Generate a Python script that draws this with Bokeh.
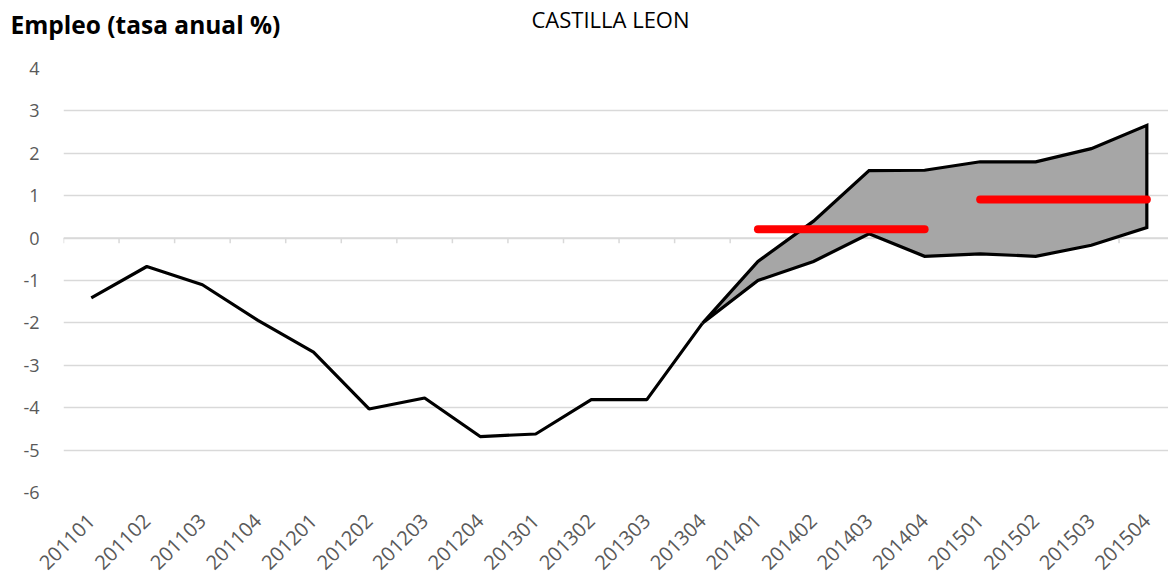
from bokeh.plotting import figure
from bokeh.models import Range1d, FixedTicker, Label
from bokeh.embed import file_html
from bokeh.resources import INLINE

periods = ["201101", "201102", "201103", "201104", "201201", "201202", "201203", "201204",
           "201301", "201302", "201303", "201304", "201401", "201402", "201403", "201404",
           "201501", "201502", "201503", "201504"]
y_ticks = [-6, -5, -4, -3, -2, -1, 0, 1, 2, 3, 4]

# observed series 201101..201304
observed = [-1.41, -0.67, -1.10, -1.94, -2.69, -4.03, -3.77, -4.68, -4.62, -3.81, -3.81, -2.01]
# forecast band 201304..201504
band_upper = [-2.01, -0.55, 0.40, 1.59, 1.60, 1.80, 1.80, 2.11, 2.66]
band_lower = [-2.01, -1.00, -0.55, 0.10, -0.43, -0.37, -0.43, -0.17, 0.25]
# annual averages
avg_2014 = 0.21
avg_2015 = 0.91

title_left = "Empleo (tasa anual %)"
title_center = "CASTILLA LEON"

GREY_TXT = "#595959"
GRID = "#d9d9d9"
FONT = "Open Sans"

W, H = 1168, 585
LEFT, TOP, BOTTOM = 63, 68, 93

p = figure(width=W, height=H, output_backend="svg", toolbar_location=None,
           x_range=Range1d(-0.5, 19.39), y_range=Range1d(-6, 4),
           min_border_left=LEFT, min_border_right=0, min_border_top=TOP, min_border_bottom=BOTTOM)
p.outline_line_color = None

# grid
p.xgrid.grid_line_color = None
p.ygrid.grid_line_color = GRID
p.ygrid.grid_line_width = 1.5
p.yaxis.ticker = FixedTicker(ticks=y_ticks)
p.yaxis.major_label_overrides = {t: str(t) for t in y_ticks}

# y axis
p.yaxis.axis_line_color = None
p.yaxis.major_tick_line_color = None
p.yaxis.major_tick_out = 0
p.yaxis.major_tick_in = 0
p.yaxis.minor_tick_line_color = None
p.yaxis.major_label_text_color = GREY_TXT
p.yaxis.major_label_text_font = FONT
p.yaxis.major_label_text_font_size = "18px"
p.yaxis.major_label_standoff = 24

# x axis
idx = list(range(len(periods)))
p.xaxis.ticker = FixedTicker(ticks=idx)
p.xaxis.major_label_overrides = {i: s for i, s in enumerate(periods)}
p.xaxis.axis_line_color = None
p.xaxis.major_tick_line_color = None
p.xaxis.major_tick_out = 0
p.xaxis.major_tick_in = 0
p.xaxis.minor_tick_line_color = None
p.xaxis.major_label_orientation = 0.785398
p.xaxis.major_label_text_color = GREY_TXT
p.xaxis.major_label_text_font = FONT
p.xaxis.major_label_text_font_size = "20px"
p.xaxis.major_label_standoff = 25

# zero (category) axis line with tick marks between categories
p.line([-0.5, 19.5], [0, 0], line_color=GRID, line_width=1.5)
bounds = [i - 0.5 for i in range(len(periods) + 1)]
p.segment(x0=bounds, y0=[0] * len(bounds), x1=bounds, y1=[-0.12] * len(bounds),
          line_color=GRID, line_width=1.5)

# band
bx = list(range(11, 20))
px = bx + bx[::-1]
py = band_upper + band_lower[::-1]
p.patch(px, py, fill_color="#a6a6a6", line_color="black", line_width=3.2, line_join="miter")

# observed line
p.line(list(range(0, 12)), observed, line_color="black", line_width=3.2)

# annual averages
p.line([12, 15], [avg_2014, avg_2014], line_color="#ff0000", line_width=8, line_cap="round")
p.line([16, 19], [avg_2015, avg_2015], line_color="#ff0000", line_width=8, line_cap="round")

# titles (placed in the top side panel)
p.add_layout(Label(x=10 - LEFT, y=44, x_units="screen", y_units="screen",
                   text=title_left, text_font=FONT, text_font_style="bold",
                   text_font_size="24.5px", text_color="black",
                   text_baseline="alphabetic"), "above")
p.add_layout(Label(x=610 - LEFT, y=17, x_units="screen", y_units="screen",
                   text=title_center, text_font=FONT,
                   text_font_size="22px", text_color="black", text_baseline="alphabetic",
                   text_align="center"), "above")

open("out.html", "w").write(file_html(p, INLINE))
